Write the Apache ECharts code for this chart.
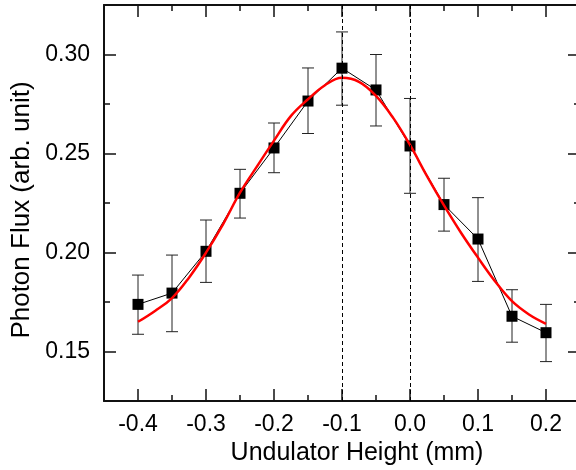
<!DOCTYPE html>
<html>
<head>
<meta charset="utf-8">
<script src="https://cdn.jsdelivr.net/npm/echarts@6/dist/echarts.min.js"></script>
<style>html,body{margin:0;padding:0;background:#fff;}#c{width:576px;height:470px;}</style>
</head>
<body>
<div id="c"></div>
<script>
// ---- data ----
const heights = [-0.4, -0.35, -0.3, -0.25, -0.2, -0.15, -0.1, -0.05, 0.0, 0.05, 0.1, 0.15, 0.2];
const flux    = [0.1738, 0.1795, 0.2006, 0.2299, 0.2528, 0.2765, 0.2931, 0.2821, 0.2538, 0.2242, 0.2068, 0.1678, 0.1595];
const errHigh = [0.1886, 0.1987, 0.2164, 0.2420, 0.2654, 0.2932, 0.3114, 0.3000, 0.2778, 0.2375, 0.2277, 0.1812, 0.1738];
const errLow  = [0.1587, 0.1600, 0.1849, 0.2174, 0.2403, 0.2601, 0.2744, 0.2639, 0.2299, 0.2108, 0.1854, 0.1547, 0.1449];
const fitX = [-0.4, -0.375, -0.35, -0.325, -0.3, -0.275, -0.25, -0.225, -0.2, -0.175, -0.15, -0.125, -0.1,
              -0.075, -0.05, -0.025, 0.0, 0.025, 0.05, 0.075, 0.1, 0.125, 0.15, 0.175, 0.2];
const fitY = [0.1650, 0.1705, 0.1770, 0.1873, 0.1999, 0.2142, 0.2302, 0.2435, 0.2565, 0.2690, 0.2774, 0.2845, 0.2882,
              0.2862, 0.2791, 0.2681, 0.2543, 0.2386, 0.2238, 0.2100, 0.1974, 0.1855, 0.1754, 0.1687, 0.1640];
const xMajorTicks = [-0.4, -0.3, -0.2, -0.1, 0.0, 0.1, 0.2];
const xMinorTicks = [-0.35, -0.25, -0.15, -0.05, 0.05, 0.15];
const yMajorTicks = [0.15, 0.20, 0.25, 0.30];
const yMinorTicks = [0.175, 0.225, 0.275];
const markedHeights = [-0.1, 0.0];
const xTitle = 'Undulator Height (mm)';
const yTitle = 'Photon Flux (arb. unit)';

// ---- chart ----
const FONT = '"Liberation Sans", Arial, sans-serif';
const X_MIN = -0.45, X_MAX = 0.25, Y_MIN = 0.125, Y_MAX = 0.325;
const chart = echarts.init(document.getElementById('c'), null, {renderer: 'canvas'});

function xAx(pos, ticks, len, labels, lineShow, extra) {
  return Object.assign({
    type: 'value', min: X_MIN, max: X_MAX, position: pos, gridIndex: 0,
    axisLine: {show: lineShow, onZero: false, lineStyle: {color: '#111', width: 2}},
    axisTick: {show: true, inside: true, length: len, customValues: ticks, lineStyle: {color: '#111', width: 1.5}},
    axisLabel: labels ? {show: true, customValues: ticks, formatter: v => Number(v).toFixed(1),
      fontFamily: FONT, fontSize: 23, color: '#000', margin: 12} : {show: false},
    splitLine: {show: false}
  }, extra || {});
}
function yAx(pos, ticks, len, labels, lineShow, extra) {
  return Object.assign({
    type: 'value', min: Y_MIN, max: Y_MAX, position: pos, gridIndex: 0,
    axisLine: {show: lineShow, onZero: false, lineStyle: {color: '#111', width: 2}},
    axisTick: {show: true, inside: true, length: len, customValues: ticks, lineStyle: {color: '#111', width: 1.5}},
    axisLabel: labels ? {show: true, customValues: ticks, formatter: v => Number(v).toFixed(2),
      fontFamily: FONT, fontSize: 23, color: '#000', margin: 14} : {show: false},
    splitLine: {show: false}
  }, extra || {});
}

const errData = heights.map((h, i) => [h, errLow[i], errHigh[i]]);

chart.setOption({
  animation: false,
  backgroundColor: '#fff',
  grid: {left: 104, top: 5, width: 476, height: 396, containLabel: false, outerBoundsMode: 'none'},
  xAxis: [
    xAx('bottom', xMajorTicks, 12, true, true, {
      name: xTitle, nameLocation: 'middle', nameGap: 38,
      nameTextStyle: {fontFamily: FONT, fontSize: 25, color: '#000', padding: [0, 0, 0, 30]}
    }),
    xAx('bottom', xMinorTicks, 6, false, false),
    xAx('top', xMajorTicks, 12, false, true),
    xAx('top', xMinorTicks, 6, false, false)
  ],
  yAxis: [
    yAx('left', yMajorTicks, 12, true, true, {
      name: yTitle, nameLocation: 'middle', nameGap: 66, nameRotate: 90,
      nameTextStyle: {fontFamily: FONT, fontSize: 26, color: '#000', padding: [0, 14, 0, 0]}
    }),
    yAx('left', yMinorTicks, 6, false, false),
    yAx('right', yMajorTicks, 12, false, true),
    yAx('right', yMinorTicks, 6, false, false)
  ],
  series: [
    {
      type: 'custom', xAxisIndex: 0, yAxisIndex: 0, z: 2,
      data: errData,
      renderItem: function (params, api) {
        const x = api.value(0);
        const lo = api.coord([x, api.value(1)]);
        const hi = api.coord([x, api.value(2)]);
        const hw = 6;
        const st = {stroke: '#222', lineWidth: 1, fill: null};
        return {type: 'group', children: [
          {type: 'line', shape: {x1: lo[0], y1: lo[1], x2: hi[0], y2: hi[1]}, style: st},
          {type: 'line', shape: {x1: lo[0] - hw, y1: lo[1], x2: lo[0] + hw, y2: lo[1]}, style: st},
          {type: 'line', shape: {x1: hi[0] - hw, y1: hi[1], x2: hi[0] + hw, y2: hi[1]}, style: st}
        ]};
      }
    },
    {
      type: 'line', xAxisIndex: 0, yAxisIndex: 0, z: 3,
      data: heights.map((h, i) => [h, flux[i]]),
      symbol: 'rect', symbolSize: 11,
      itemStyle: {color: '#000'},
      lineStyle: {color: '#000', width: 1},
      markLine: {
        silent: true, symbol: ['none', 'none'], label: {show: false},
        lineStyle: {color: '#000', width: 1, type: [4, 3]},
        data: markedHeights.map(v => ({xAxis: v}))
      }
    },
    {
      type: 'line', xAxisIndex: 0, yAxisIndex: 0, z: 4,
      data: fitX.map((x, i) => [x, fitY[i]]),
      smooth: 0.4, symbol: 'none',
      lineStyle: {color: '#ff0000', width: 2.5}
    }
  ]
});
</script>
</body>
</html>
